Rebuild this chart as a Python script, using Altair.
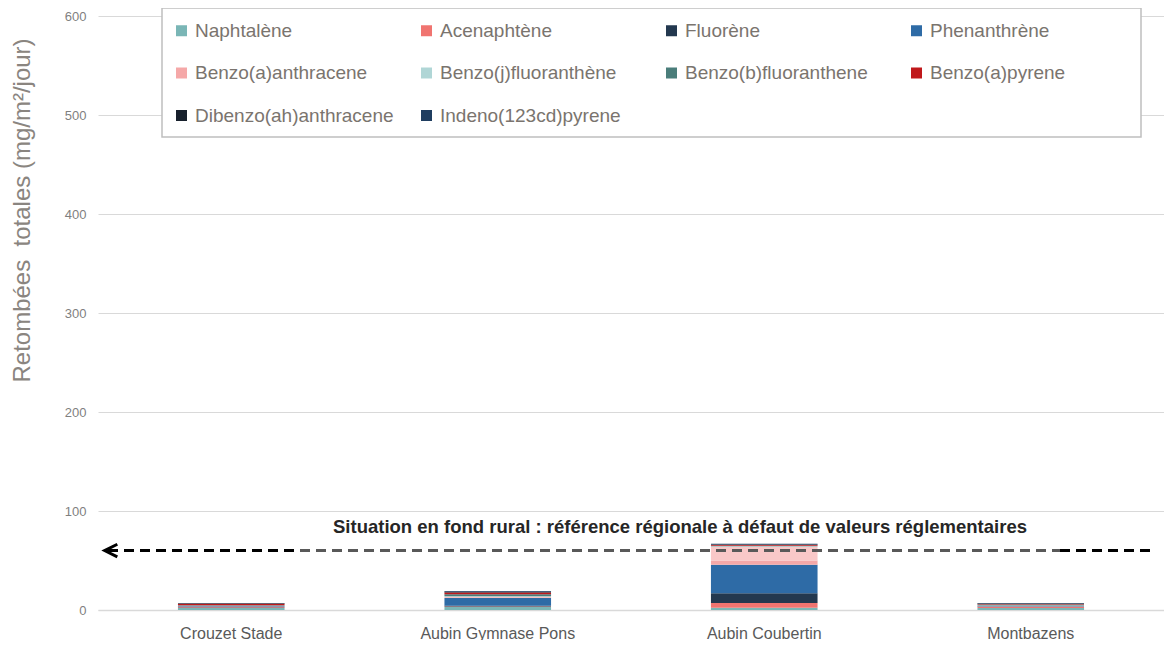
import altair as alt
import pandas as pd

sites = ["Crouzet Stade", "Aubin Gymnase Pons", "Aubin Coubertin", "Montbazens"]

series = ["Naphtalène", "Acenaphtène", "Fluorène", "Phenanthrène", "Benzo(a)anthracene",
          "Fluoranthène", "Benzo(j)fluoranthène", "Benzo(b)fluoranthene", "Benzo(a)pyrene",
          "Dibenzo(ah)anthracene", "Indeno(123cd)pyrene"]
legend_series = ["Naphtalène", "Acenaphtène", "Fluorène", "Phenanthrène", "Benzo(a)anthracene",
                 "Benzo(j)fluoranthène", "Benzo(b)fluoranthene", "Benzo(a)pyrene",
                 "Dibenzo(ah)anthracene", "Indeno(123cd)pyrene"]
colors = ["#7AB6B6", "#F07470", "#23384F", "#2E6BA6", "#F5A8A8",
          "#F9C8C8", "#B0D6D6", "#4A7D7A", "#C0181B", "#17202C", "#1F3D60"]

# values per series, in site order
naphtalene = [2.0, 3.0, 2.3, 2.0]
acenaphtene = [0.7, 0.5, 4.7, 1.0]
fluorene = [0.3, 0.8, 10.0, 0.3]
phenanthrene = [0.8, 7.7, 28.6, 0.5]
benzo_a_anthracene = [0.3, 1.0, 4.3, 0.3]
fluoranthene = [0.0, 0.5, 14.0, 0.0]
benzo_j_fluoranthene = [0.3, 0.5, 0.5, 0.5]
benzo_b_fluoranthene = [0.5, 2.0, 0.5, 1.0]
benzo_a_pyrene = [1.5, 1.8, 0.8, 0.5]
dibenzo_ah_anthracene = [0.3, 0.6, 0.5, 0.4]
indeno_pyrene = [0.3, 0.8, 0.8, 0.6]

values = [naphtalene, acenaphtene, fluorene, phenanthrene, benzo_a_anthracene,
          fluoranthene, benzo_j_fluoranthene, benzo_b_fluoranthene, benzo_a_pyrene,
          dibenzo_ah_anthracene, indeno_pyrene]

reference_value = 60
annotation_text = "Situation en fond rural : référence régionale à défaut de valeurs réglementaires"
annotation_y = 84

rows = []
for i, (name, vals) in enumerate(zip(series, values)):
    for site, v in zip(sites, vals):
        rows.append({"site": site, "serie": name, "value": v, "ordre": i})
df = pd.DataFrame(rows)

W, H = 1066, 594

box_df = pd.DataFrame({"k": [1]})
legend_box = alt.Chart(box_df).mark_rect(fill="white", stroke="#BFBFBF", strokeWidth=1.5).encode(
    x=alt.value(64), x2=alt.value(1043), y=alt.value(-8), y2=alt.value(121))

bars = alt.Chart(df).mark_bar().encode(
    x=alt.X("site:N", sort=sites,
            scale=alt.Scale(paddingInner=0.6, paddingOuter=0.3),
            axis=alt.Axis(title=None, labelAngle=0, labelFontSize=16, labelColor="#595959",
                          labelFont="Liberation Sans", ticks=False, labelPadding=15,
                          domainColor="#D9D9D9", domainWidth=1.5)),
    y=alt.Y("value:Q", stack="zero",
            scale=alt.Scale(domain=[0, 600], nice=False),
            axis=alt.Axis(title="Retombées\u00a0 totales (mg/m²/jour)", values=[0, 100, 200, 300, 400, 500, 600],
                          titleFontSize=24, titleFontWeight="normal", titleColor="#8A8580",
                          titleFont="Liberation Sans", titlePadding=30, titleY=194,
                          labelFontSize=13, labelColor="#7F7F7F", labelFont="Liberation Sans",
                          labelPadding=12, ticks=False, domain=False,
                          gridColor="#D9D9D9", gridWidth=1)),
    color=alt.Color("serie:N", scale=alt.Scale(domain=series, range=colors),
                    legend=alt.Legend(values=legend_series, title=None, orient="none",
                                      legendX=60, legendY=-9, columns=4, direction="horizontal",
                                      symbolType="square", symbolSize=121, symbolStrokeWidth=0,
                                      labelFontSize=19, labelColor="#7A746E", labelFont="Liberation Sans",
                                      labelLimit=400, columnPadding=23, rowPadding=22.5,
                                      padding=14, gridAlign="all")),
    order=alt.Order("ordre:Q", sort="ascending"),
)

ref_df = pd.DataFrame({"y": [reference_value]})

grey_rule = alt.Chart(ref_df).mark_rule(color="#595959", strokeWidth=3, strokeDash=[10, 6]).encode(
    y="y:Q", x=alt.value(202), x2=alt.value(962))
black_left = alt.Chart(ref_df).mark_rule(color="black", strokeWidth=3, strokeDash=[10, 6]).encode(
    y="y:Q", x=alt.value(10), x2=alt.value(202))
black_right = alt.Chart(ref_df).mark_rule(color="black", strokeWidth=3, strokeDash=[10, 6]).encode(
    y="y:Q", x=alt.value(962), x2=alt.value(1052))
arrow = alt.Chart(ref_df).mark_point(shape="M1,-1L-1,0L1,1", filled=False, size=160,
                                     stroke="black", strokeWidth=3, opacity=1).encode(
    y="y:Q", x=alt.value(13))

text_df = pd.DataFrame({"y": [annotation_y], "t": [annotation_text]})
annot = alt.Chart(text_df).mark_text(font="Liberation Sans", fontWeight="bold", fontSize=18.5,
                                     color="#262626", align="center", baseline="middle").encode(
    y="y:Q", x=alt.value(582), text="t:N")

chart = alt.layer(legend_box, bars, grey_rule, black_left, black_right, arrow, annot).properties(
    width=W, height=H,
    autosize=alt.AutoSizeParams(type="none"),
    padding={"left": 90, "top": 8, "right": 0, "bottom": 30},
).configure_view(stroke=None)

chart.save("out.html", embed_options={"renderer": "svg", "actions": False})
